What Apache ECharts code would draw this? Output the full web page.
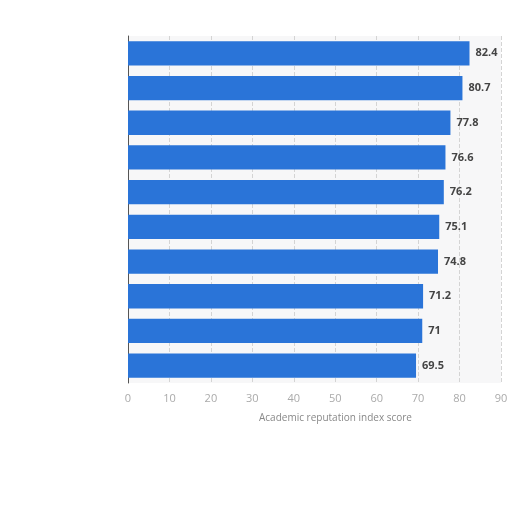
<!DOCTYPE html>
<html><head><meta charset="utf-8">
<script src="https://cdn.jsdelivr.net/npm/echarts@6/dist/echarts.min.js"></script>
<style>html,body{margin:0;padding:0;background:#fff}#c{width:512px;height:512px}</style>
</head><body><div id="c"></div>
<script>
const categories = ['A','B','C','D','E','F','G','H','I','J'];
const values = [82.4, 80.7, 77.8, 76.6, 76.2, 75.1, 74.8, 71.2, 71, 69.5];
const xTicks = [0,10,20,30,40,50,60,70,80,90];

const chart = echarts.init(document.getElementById('c'));
chart.setOption({
  backgroundColor: '#fff',
  grid: { left: 128, right: 11, top: 36, bottom: 129, backgroundColor: '#f7f7f8', show: true, borderWidth: 0 },
  xAxis: {
    type: 'value', min: 0, max: 90, interval: 10,
    axisLine: { show: false }, axisTick: { show: false },
    splitLine: { show: true, lineStyle: { type: 'dashed', color: '#d4d4d4' } },
    axisLabel: { color: '#aaa', fontSize: 11, fontFamily: 'Open Sans', margin: 10 },
    name: 'Academic reputation index score', nameLocation: 'middle', nameGap: 30,
    nameTextStyle: { color: '#888', fontSize: 10, fontFamily: 'Open Sans', padding: [0, 0, 0, 42] }
  },
  yAxis: {
    type: 'category', data: categories, inverse: true,
    axisLine: { show: true, lineStyle: { color: '#555', width: 1 } },
    axisTick: { show: false }, axisLabel: { show: false }
  },
  series: [{
    type: 'bar', data: values, barCategoryGap: '30%',
    itemStyle: { color: '#2a74d8' },
    label: { show: true, position: 'right', color: '#444', fontWeight: 'bold', fontSize: 11, fontFamily: 'Open Sans', distance: 6 }
  }]
});
</script></body></html>
